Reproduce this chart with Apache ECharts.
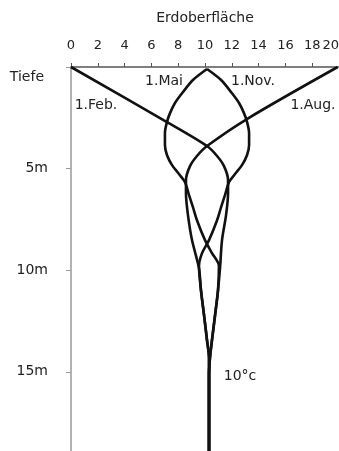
<!DOCTYPE html>
<html>
<head>
<meta charset="utf-8">
<script src="https://cdn.jsdelivr.net/npm/echarts@6/dist/echarts.min.js"></script>
<style>
html,body{margin:0;padding:0;background:#fff;}
#c{width:339px;height:451px;}
</style>
</head>
<body>
<div id="c"></div>
<script>
// Temperature profiles [temperature °C, depth m]
var feb = [[0,0],[7.16,2.71],[10.15,3.89],[10.9,4.38],[11.42,4.88],[11.72,5.57],[11.72,6.21],[11.57,7.29],[11.27,8.52],[11.12,9.9],[10.97,10.99],[10.75,12.22],[10.52,13.45],[10.37,14.33],[10.3,15.17],[10.3,18.92]];
var aug = [[19.9,0],[13.13,2.56],[10.15,3.89],[9.4,4.38],[8.88,4.88],[8.58,5.57],[8.58,6.21],[8.73,7.29],[9.03,8.52],[9.55,9.9],[9.7,10.99],[9.93,12.22],[10.15,13.45],[10.3,14.33],[10.3,15.17],[10.3,18.92]];
var mai = [[10.15,0.1],[9.1,0.64],[8.36,1.23],[7.76,1.77],[7.39,2.27],[7.16,2.71],[7.01,3.25],[7.01,3.84],[7.16,4.33],[7.54,4.83],[8.06,5.27],[8.51,5.67],[8.81,6.31],[9.1,6.9],[9.4,7.54],[10.0,8.52],[10.52,9.16],[11.04,9.8],[10.97,10.99],[10.75,12.22],[10.52,13.45],[10.37,14.33],[10.3,15.17],[10.3,18.92]];
var nov = [[10.15,0.1],[11.2,0.64],[11.94,1.23],[12.54,1.77],[12.91,2.27],[13.14,2.71],[13.29,3.25],[13.29,3.84],[13.14,4.33],[12.76,4.83],[12.24,5.27],[11.79,5.67],[11.49,6.31],[11.2,6.9],[10.9,7.54],[10.3,8.52],[9.78,9.16],[9.55,9.8],[9.7,10.99],[9.93,12.22],[10.15,13.45],[10.3,14.33],[10.3,15.17],[10.3,18.92]];
var seriesNames = ['1.Feb.','1.Aug.','1.Mai','1.Nov.'];
var xTicks = [0,2,4,6,8,10,12,14,16,18,20];
var depthTicks = ['Tiefe','5m','10m','15m'];
var xTitle = 'Erdoberfläche';
var endLabel = '10°c';

var chart = echarts.init(document.getElementById('c'), null, {renderer:'canvas'});
var FONT = 'DejaVu Sans';
var lineStyle = {color:'#111', width:2.6};
function mk(name, data){
  return {name:name, type:'line', data:data, smooth:0.3, showSymbol:false, symbol:'none', clip:false, lineStyle:lineStyle, silent:true};
}
var option = {
  animation:false,
  backgroundColor:'#fff',
  grid:{left:71, right:0, top:67, bottom:0, containLabel:false, outerBoundsMode:'none'},
  xAxis:{
    type:'value', position:'top', min:0, max:20, interval:2,
    name:xTitle, nameLocation:'middle', nameGap:42,
    nameTextStyle:{fontFamily:FONT, fontSize:14, color:'#222'},
    axisLine:{show:true, lineStyle:{color:'#555', width:1.5}},
    axisTick:{show:true, length:4, lineStyle:{color:'#555'}},
    axisLabel:{fontFamily:FONT, fontSize:13, color:'#222', margin:15, showMinLabel:true, showMaxLabel:true, alignMaxLabel:'right', hideOverlap:false,
      formatter:function(v){ return xTicks.indexOf(v)>=0 ? String(v) : ''; }},
    splitLine:{show:false}
  },
  yAxis:{
    type:'value', inverse:true, min:0, max:18.9, interval:5,
    axisLine:{show:true, lineStyle:{color:'#999', width:1.5}},
    axisTick:{show:true, length:5, lineStyle:{color:'#999'}},
    axisLabel:{fontFamily:FONT, fontSize:14, color:'#222', margin:23, showMaxLabel:false,
      formatter:function(v){
        var i = Math.round(v/5);
        if (Math.abs(v - i*5) > 1e-6 || i >= depthTicks.length) return '';
        return i===0 ? '{t|'+depthTicks[0]+'}' : depthTicks[i];
      },
      rich:{t:{fontFamily:FONT, fontSize:14, color:'#222', padding:[20,4,0,0]}}
    },
    splitLine:{show:false}
  },
  series:[mk(seriesNames[0],feb), mk(seriesNames[1],aug), mk(seriesNames[2],mai), mk(seriesNames[3],nov)],
  graphic:[
    {type:'text', x:164, y:81, style:{text:seriesNames[2], font:'14px "DejaVu Sans"', fill:'#222', align:'center', verticalAlign:'middle'}},
    {type:'text', x:253, y:81, style:{text:seriesNames[3], font:'14px "DejaVu Sans"', fill:'#222', align:'center', verticalAlign:'middle'}},
    {type:'text', x:96, y:105, style:{text:seriesNames[0], font:'14px "DejaVu Sans"', fill:'#222', align:'center', verticalAlign:'middle'}},
    {type:'text', x:313, y:105, style:{text:seriesNames[1], font:'14px "DejaVu Sans"', fill:'#222', align:'center', verticalAlign:'middle'}},
    {type:'text', x:240, y:376, style:{text:endLabel, font:'14px "DejaVu Sans"', fill:'#222', align:'center', verticalAlign:'middle'}}
  ]
};
chart.setOption(option);
</script>
</body>
</html>
